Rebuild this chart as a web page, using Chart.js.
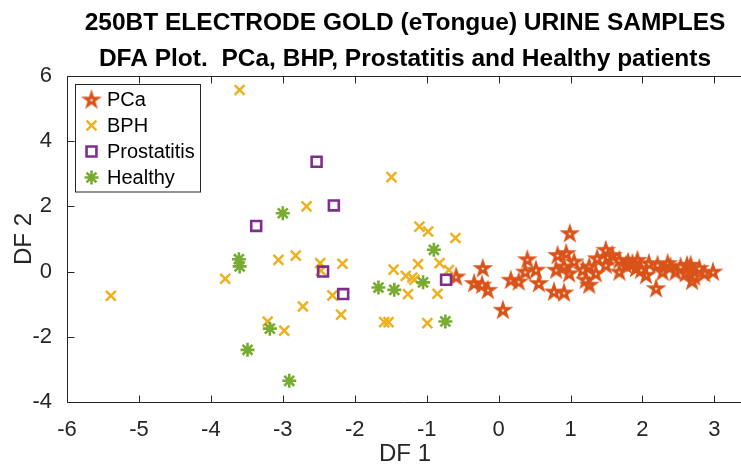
<!DOCTYPE html>
<html>
<head>
<meta charset="utf-8">
<script src="https://cdn.jsdelivr.net/npm/chart.js@4/dist/chart.umd.min.js"></script>
<style>
  html, body { margin: 0; padding: 0; background: #ffffff; overflow: hidden; }
  canvas { display: block; }
</style>
</head>
<body>
<canvas id="dfa" width="741" height="466"></canvas>
<script>
// ---- Text ----
const titleLines = [
  '250BT ELECTRODE GOLD (eTongue) URINE SAMPLES',
  'DFA Plot.  PCa, BHP, Prostatitis and Healthy patients'
];
const xAxisLabel = 'DF 1';
const yAxisLabel = 'DF 2';

// ---- Axis ticks ----
const xTicks = [-6, -5, -4, -3, -2, -1, 0, 1, 2, 3];
const yTicks = [-4, -2, 0, 2, 4, 6];

// ---- Groups ----
const groupNames = ['PCa', 'BPH', 'Prostatitis', 'Healthy'];

// Discriminant function scores [DF1, DF2]
const pcaScores = [
  [-0.59, -0.15], [-0.22, 0.11], [-0.34, -0.35], [-0.23, -0.40], [-0.15, -0.56],
  [0.06, -1.17], [0.17, -0.25], [0.28, -0.30], [0.40, 0.38], [0.37, 0.00],
  [0.52, 0.06], [0.56, -0.35], [0.77, -0.61], [0.91, -0.64], [0.99, 1.18],
  [0.82, 0.51], [0.94, 0.57], [1.05, 0.31], [0.80, 0.06], [0.91, 0.16],
  [0.98, -0.05], [1.17, 0.06], [1.21, -0.25], [1.49, 0.67], [1.58, 0.51],
  [1.37, 0.41], [1.26, 0.16], [1.26, -0.40], [1.49, 0.21], [1.35, -0.05],
  [1.52, 0.45], [1.68, 0.36], [1.68, 0.00], [1.77, 0.21], [1.80, 0.30],
  [1.86, 0.26], [1.91, 0.11], [1.93, 0.36], [1.98, 0.06], [2.05, -0.10],
  [2.09, 0.26], [2.21, 0.21], [2.19, -0.51], [2.28, 0.00], [2.35, 0.26],
  [2.39, 0.16], [2.46, 0.00], [2.53, 0.16], [2.60, -0.05], [2.62, 0.20],
  [2.67, 0.21], [2.69, -0.28], [2.72, -0.15], [2.79, 0.11], [2.86, -0.05],
  [2.98, 0.00]
];
const bphScores = [
  [-5.39, -0.74], [-3.60, 5.57], [-2.67, 2.00], [-1.49, 2.90], [-3.06, 0.36],
  [-2.82, 0.49], [-3.80, -0.22], [-2.72, -1.07], [-3.21, -1.53], [-2.98, -1.81],
  [-1.10, 1.38], [-0.98, 1.23], [-0.60, 1.03], [-2.48, 0.26], [-2.17, 0.24],
  [-2.47, 0.03], [-1.46, 0.06], [-1.12, 0.23], [-0.82, 0.26], [-0.69, 0.05],
  [-1.29, -0.13], [-1.20, -0.18], [-1.17, -0.25], [-1.26, -0.69], [-0.85, -0.68],
  [-2.31, -0.73], [-2.19, -1.32], [-1.59, -1.55], [-1.53, -1.55], [-0.99, -1.58]
];
const prostatitisScores = [
  [-2.53, 3.37], [-2.29, 2.03], [-3.37, 1.40], [-2.44, 0.00], [-2.16, -0.69],
  [-0.73, -0.25]
];
const healthyScores = [
  [-3.00, 1.79], [-3.61, 0.38], [-3.60, 0.16], [-3.18, -1.75], [-3.49, -2.40],
  [-2.91, -3.35], [-0.90, 0.67], [-1.05, -0.33], [-1.67, -0.49], [-1.45, -0.56],
  [-0.74, -1.53]
];

// ---- Style ----
const FONT = "'Liberation Sans', Arial, Helvetica, sans-serif";
const AXIS_COLOR = '#262626';
const COLORS = ['#D95319', '#EDB120', '#7E2F8E', '#77AC30'];

// Outlined five-pointed star marker, rendered once to an offscreen canvas
function pentagramMarker(color, R, lw) {
  const size = Math.ceil(2 * (R + lw / 2 / Math.sin(Math.PI / 10)) + 4);
  const c = document.createElement('canvas');
  c.width = size; c.height = size;
  const g = c.getContext('2d');
  g.translate(size / 2, size / 2 + R * 0.1);
  g.beginPath();
  for (let i = 0; i < 10; i++) {
    const r = i % 2 ? R * 0.382 : R;
    const a = -Math.PI / 2 + i * Math.PI / 5;
    g.lineTo(r * Math.cos(a), r * Math.sin(a));
  }
  g.closePath();
  g.lineJoin = 'miter';
  g.miterLimit = 10;
  g.lineWidth = lw;
  g.strokeStyle = color;
  g.stroke();
  return c;
}
const starMarker = pentagramMarker(COLORS[0], 6.4, 2.8);

const toXY = arr => arr.map(p => ({ x: p[0], y: p[1] }));

const markerStyles = [
  { pointStyle: starMarker, radius: 10, borderWidth: 2.8 },
  { pointStyle: 'crossRot', radius: 7, borderWidth: 2.5 },
  { pointStyle: 'rect', radius: 7, borderWidth: 2.6 },
  { pointStyle: 'star', radius: 7, borderWidth: 2.6 }
];
const groupData = [pcaScores, bphScores, prostatitisScores, healthyScores];

const datasets = groupNames.map((name, i) => ({
  label: name,
  data: toXY(groupData[i]),
  pointStyle: markerStyles[i].pointStyle,
  pointRadius: markerStyles[i].radius,
  pointBorderWidth: markerStyles[i].borderWidth,
  borderColor: COLORS[i],
  backgroundColor: 'rgba(0,0,0,0)',
  pointBackgroundColor: 'rgba(0,0,0,0)',
  showLine: false,
  order: groupNames.length - i
}));

// Axes box with inward tick marks (left, bottom, top)
const axesFrame = {
  id: 'axesFrame',
  beforeDatasetsDraw(chart) {
    const { ctx, chartArea: a, scales } = chart;
    const L = Math.round(a.left) + 0.5, B = Math.round(a.bottom) + 0.5, T = Math.round(a.top) + 0.5;
    const tl = 7;
    ctx.save();
    ctx.strokeStyle = AXIS_COLOR;
    ctx.lineWidth = 1;
    ctx.beginPath();
    ctx.moveTo(a.right, T); ctx.lineTo(L, T); ctx.lineTo(L, B); ctx.lineTo(a.right, B);
    xTicks.forEach(v => {
      const px = Math.round(scales.x.getPixelForValue(v)) + 0.5;
      ctx.moveTo(px, B); ctx.lineTo(px, B - tl);
      ctx.moveTo(px, T); ctx.lineTo(px, T + tl);
    });
    yTicks.forEach(v => {
      const py = Math.round(scales.y.getPixelForValue(v)) + 0.5;
      ctx.moveTo(L, py); ctx.lineTo(L + tl, py);
    });
    ctx.stroke();
    ctx.restore();
  },
  afterDraw(chart) {
    const { ctx, chartArea: a } = chart;
    ctx.save();
    // Title
    ctx.fillStyle = '#000000';
    ctx.font = 'bold 24.5px ' + FONT;
    ctx.textAlign = 'center';
    ctx.textBaseline = 'middle';
    const cx = (a.left + a.right) / 2 + 1;
    ctx.fillText(titleLines[0], cx, 23.5);
    ctx.fillText(titleLines[1], cx, 59.5);
    // Axis titles
    ctx.fillStyle = AXIS_COLOR;
    ctx.font = '24px ' + FONT;
    ctx.fillText(xAxisLabel, cx, 454);
    ctx.translate(24, (a.top + a.bottom) / 2);
    ctx.rotate(-Math.PI / 2);
    ctx.fillText(yAxisLabel, 0, 0);
    ctx.restore();

    // Legend
    ctx.save();
    const bx = 75.5, by = 84.5, bw = 125, bh = 107.5;
    ctx.fillStyle = '#ffffff';
    ctx.fillRect(bx, by, bw, bh);
    ctx.strokeStyle = AXIS_COLOR;
    ctx.lineWidth = 1;
    ctx.strokeRect(bx, by, bw, bh);
    ctx.font = '20px ' + FONT;
    ctx.textAlign = 'left';
    ctx.textBaseline = 'middle';
    chart.data.datasets.forEach((ds, i) => {
      const y = 99.5 + i * 26;
      const mx = 91.5;
      ctx.save();
      ctx.strokeStyle = ds.borderColor;
      ctx.fillStyle = 'rgba(0,0,0,0)';
      ctx.lineWidth = ds.pointBorderWidth;
      Chart.helpers.drawPoint(ctx, {
        pointStyle: ds.pointStyle, radius: ds.pointRadius,
        rotation: 0, borderWidth: ds.pointBorderWidth
      }, mx, y);
      ctx.restore();
      ctx.fillStyle = '#000000';
      ctx.fillText(ds.label, 107, y + 1);
    });
    ctx.restore();
  }
};

new Chart(document.getElementById('dfa'), {
  type: 'scatter',
  data: { datasets },
  options: {
    responsive: false,
    animation: false,
    devicePixelRatio: 1,
    events: [],
    layout: { autoPadding: false, padding: { top: 76, left: 0, right: 0, bottom: 0 } },
    plugins: { legend: { display: false }, tooltip: { enabled: false }, title: { display: false } },
    scales: {
      x: {
        type: 'linear', min: -6, max: 3.37,
        grid: { display: false }, border: { display: false },
        afterFit(s) { s.height = 64; },
        afterBuildTicks(s) { s.ticks = xTicks.map(v => ({ value: v })); },
        ticks: { color: AXIS_COLOR, font: { family: FONT, size: 22 }, padding: 7, maxRotation: 0, autoSkip: false }
      },
      y: {
        type: 'linear', min: -4, max: 6,
        grid: { display: false }, border: { display: false },
        afterFit(s) { s.width = 67; },
        afterBuildTicks(s) { s.ticks = yTicks.map(v => ({ value: v })); },
        ticks: { color: AXIS_COLOR, font: { family: FONT, size: 22 }, padding: 7 }
      }
    }
  },
  plugins: [axesFrame]
});
</script>
</body>
</html>
